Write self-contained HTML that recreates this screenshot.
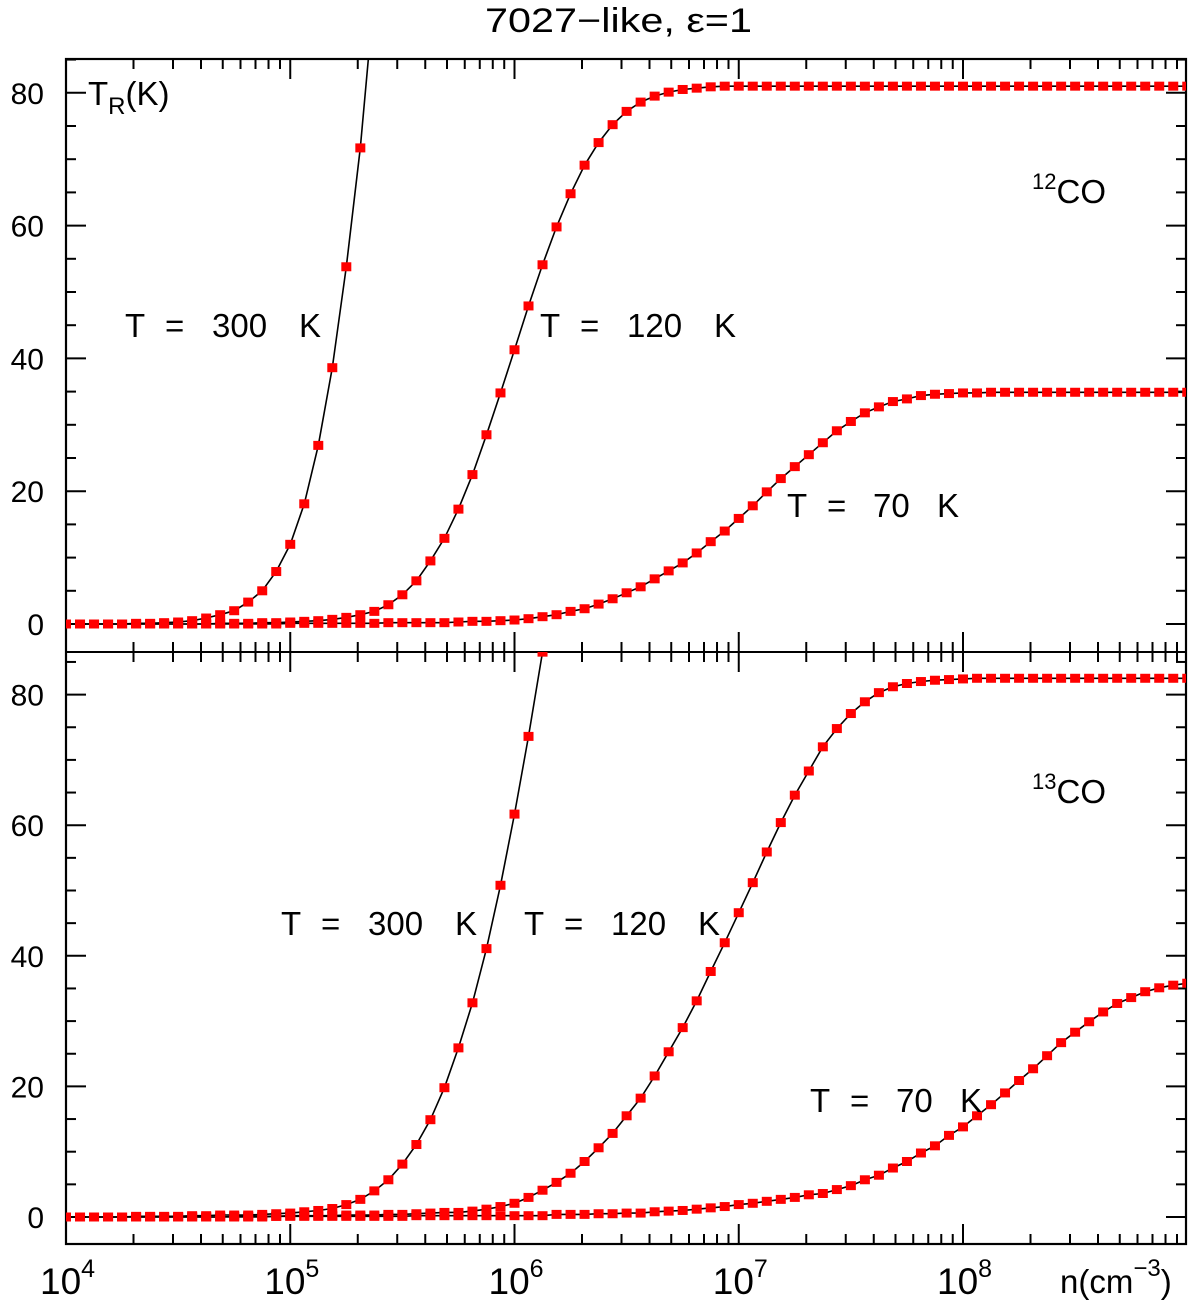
<!DOCTYPE html>
<html><head><meta charset="utf-8"><style>
html,body{margin:0;padding:0;background:#fff;}
svg{display:block;font-family:"Liberation Sans",sans-serif;}
</style></head><body>
<svg id="chart" width="1200" height="1304" viewBox="0 0 1200 1304" xmlns="http://www.w3.org/2000/svg">
<defs>
<clipPath id="clipTop"><rect x="66" y="59" width="1120" height="593"/></clipPath>
<clipPath id="clipBot"><rect x="66" y="652" width="1120" height="592"/></clipPath>
</defs>
<text x="485" y="32" font-size="34" textLength="267" lengthAdjust="spacingAndGlyphs" fill="#000">7027−like, ε=1</text>
<g id="axes"></g>
<g id="series"></g>
<g id="labels" font-size="33" fill="#000">
<text x="88" y="105">T<tspan font-size="24" dy="9">R</tspan><tspan dy="-9">(K)</tspan></text>
<g><text x="125" y="337">T</text><text x="165" y="337">=</text><text x="212" y="337">300</text><text x="299" y="337">K</text></g>
<g><text x="540" y="337">T</text><text x="580" y="337">=</text><text x="627" y="337">120</text><text x="714" y="337">K</text></g>
<g><text x="787" y="517">T</text><text x="827" y="517">=</text><text x="873" y="517">70</text><text x="937" y="517">K</text></g>
<text x="1032" y="203"><tspan font-size="22" dy="-14">12</tspan><tspan dy="14">CO</tspan></text>
<g><text x="281" y="935">T</text><text x="321" y="935">=</text><text x="368" y="935">300</text><text x="455" y="935">K</text></g>
<g><text x="524" y="935">T</text><text x="564" y="935">=</text><text x="611" y="935">120</text><text x="698" y="935">K</text></g>
<g><text x="810" y="1112">T</text><text x="850" y="1112">=</text><text x="896" y="1112">70</text><text x="960" y="1112">K</text></g>
<text x="1032" y="803"><tspan font-size="22" dy="-14">13</tspan><tspan dy="14">CO</tspan></text>
<text x="1060" y="1293">n(cm<tspan font-size="24" dy="-17">−3</tspan><tspan dy="17">)</tspan></text>
</g>
</svg>
<script>
const decades = [4,5,6,7,8,9];
const yTickValues = [0,20,40,60,80];
const topT300 = [0,0,0,0,0,0.1,0.1,0.2,0.3,0.5,0.9,1.4,2.0,3.3,5.0,7.9,12.0,18.1,26.9,38.6,53.8,71.7,95];
const topT120 = [0,0,0,0,0,0,0,0,0,0, 0,0.1,0.1,0.1,0.2,0.2,0.3,0.4,0.5,0.7, 1.0,1.4,1.9,2.9,4.4,6.5,9.5,12.9,17.3,22.5, 28.5,34.8,41.3,47.9,54.1,59.8,64.8,69.1,72.5,75.2, 77.2,78.6,79.5,80.1,80.5,80.7,80.9,81,81,81, 81,81,81,81,81,81,81,81,81,81, 81,81,81,81,81,81,81,81,81,81, 81,81,81,81,81,81,81,81,81,81,81];
const topT70 = [0,0,0,0,0,0,0,0,0,0, 0,0,0,0,0,0,0.1,0.1,0.1,0.1, 0.1,0.1,0.1,0.2,0.2,0.2,0.2,0.2,0.3,0.4, 0.4,0.5,0.6,0.8,1.1,1.4,1.9,2.3,3.0,3.8, 4.7,5.6,6.8,8.0,9.2,10.7,12.4,14.0,15.9,17.8, 19.9,21.9,23.7,25.5,27.3,29.1,30.5,31.8,32.7,33.5, 33.9,34.4,34.6,34.7,34.8,34.8,34.9,34.9,34.9,34.9, 34.9,34.9,34.9,34.9,34.9,34.9,34.9,34.9,34.9,34.9,34.9];
const botT300 = [0,0,0,0,0,0.1,0.1,0.1,0.1,0.2, 0.2,0.3,0.3,0.3,0.4,0.5,0.6,0.8,1.0,1.3, 1.9,2.7,4.0,5.7,8.1,11.1,14.9,19.8,25.9,32.8, 41.1,50.8,61.7,73.6,86.5];
const botT120 = [0,0,0,0,0,0,0,0,0,0, 0,0,0.1,0.1,0.1,0.1,0.2,0.2,0.2,0.2, 0.3,0.3,0.3,0.4,0.4,0.5,0.6,0.7,0.7,0.9, 1.2,1.6,2.1,3.0,4.1,5.3,6.7,8.5,10.6,12.8, 15.5,18.2,21.6,25.3,29.0,33.1,37.6,42.0,46.6,51.2, 55.9,60.4,64.6,68.3,72.0,74.8,77.1,78.9,80.3,81.2, 81.7,82.0,82.2,82.3,82.4,82.5,82.5,82.5,82.5,82.5, 82.5,82.5,82.5,82.5,82.5,82.5,82.5,82.5,82.5,82.5,82.5];
const botT70 = [0,0,0,0,0,0,0,0,0,0, 0,0,0,0,0,0.1,0.1,0.1,0.1,0.1, 0.1,0.1,0.1,0.1,0.1,0.2,0.2,0.2,0.2,0.2, 0.2,0.2,0.2,0.2,0.2,0.4,0.4,0.4,0.5,0.5, 0.6,0.6,0.8,0.9,1.0,1.2,1.4,1.6,1.9,2.1, 2.4,2.7,3.0,3.4,3.6,4.2,4.8,5.7,6.4,7.5, 8.5,9.8,10.9,12.5,13.8,15.5,17.2,19.0,20.9,22.7, 24.7,26.7,28.3,29.9,31.4,32.7,33.6,34.5,35.1,35.5,35.8];
const logStart = 4, logStep = 1/16;

const NS = "http://www.w3.org/2000/svg";
const X0 = 66, X1 = 1186;
function xScale(logn){ return X0 + (logn - 4) * 224.25; }
function yTop(v){ return 624 - v * 6.64; }
function yBot(v){ return 1217 - v * 6.53; }
const axes = document.getElementById('axes');
const seriesG = document.getElementById('series');
function mk(tag, attrs, parent){
  const e = document.createElementNS(NS, tag);
  for (const k in attrs) e.setAttribute(k, attrs[k]);
  parent.appendChild(e);
  return e;
}
function line(x1,y1,x2,y2,parent){
  return mk('line',{x1:x1,y1:y1,x2:x2,y2:y2,stroke:'#000','stroke-width':2},parent);
}
const frame = mk('rect',{x:66,y:59,width:1120,height:1185,fill:'none',stroke:'#000','stroke-width':2.2},axes);


const mid = line(66,652,1186,652,axes);



function xTicks(yLine, dir, name){
  const g = mk('g',{},axes);
  
  
  for (let d = 4; d < 9; d++){
    for (let m = 1; m < 10; m++){
      const x = xScale(d + Math.log10(m));
      const len = (m === 1) ? 20 : 10;
      if (m === 1 && d === 4) continue;
      line(x, yLine, x, yLine + dir*len, g);
    }
  }
}
xTicks(59, 1, 'top-x-ticks');
xTicks(652, -1, 'mid-x-ticks-up');
xTicks(652, 1, 'mid-x-ticks-down');
xTicks(1244, -1, 'bottom-x-ticks');

function yTicks(scale, vmax, name){
  const g = mk('g',{},axes);
  
  
  for (let v = 0; v <= vmax; v += 5){
    const y = scale(v);
    const len = (v % 20 === 0) ? 20 : 10;
    line(X0, y, X0 + len, y, g);
    line(X1, y, X1 - len, y, g);
  }
}
yTicks(yTop, 85, 'top-y-ticks');
yTicks(yBot, 85, 'bottom-y-ticks');

yTickValues.forEach(v => {
  const t1 = mk('text',{x:44,y:yTop(v)+11,'font-size':30,'text-anchor':'end',fill:'#000'},axes);
  
  
  t1.textContent = v;
  const t2 = mk('text',{x:44,y:yBot(v)+11,'font-size':30,'text-anchor':'end',fill:'#000'},axes);
  
  
  t2.textContent = v;
});
decades.forEach(d => {
  if (d === 9) return;
  const x = xScale(d);
  const t = mk('text',{x:x-26,y:1294,'font-size':37,fill:'#000'},axes);
  
  
  t.textContent = '10';
  const s = mk('tspan',{'font-size':25,dy:-17},t);
  s.textContent = d;
});

function drawSeries(values, yScale, clip, name){
  const g = mk('g',{'clip-path':'url(#'+clip+')'},seriesG);
  
  
  let pts = values.map((v,k) => xScale(logStart + k*logStep).toFixed(1) + ',' + yScale(v).toFixed(1));
  const pl = mk('polyline',{points:pts.join(' '),fill:'none',stroke:'#000','stroke-width':1.6},g);
  
  
  values.forEach((v,k) => {
    const x = xScale(logStart + k*logStep), y = yScale(v);
    const r = mk('rect',{x:x-5,y:y-4.5,width:10,height:9,fill:'#ff0000'},g);
    
    
  });
}
drawSeries(topT70, yTop, 'clipTop', 'top-series-t70');
drawSeries(topT120, yTop, 'clipTop', 'top-series-t120');
drawSeries(topT300, yTop, 'clipTop', 'top-series-t300');
drawSeries(botT70, yBot, 'clipBot', 'bottom-series-t70');
drawSeries(botT120, yBot, 'clipBot', 'bottom-series-t120');
drawSeries(botT300, yBot, 'clipBot', 'bottom-series-t300');
</script>
</body></html>
